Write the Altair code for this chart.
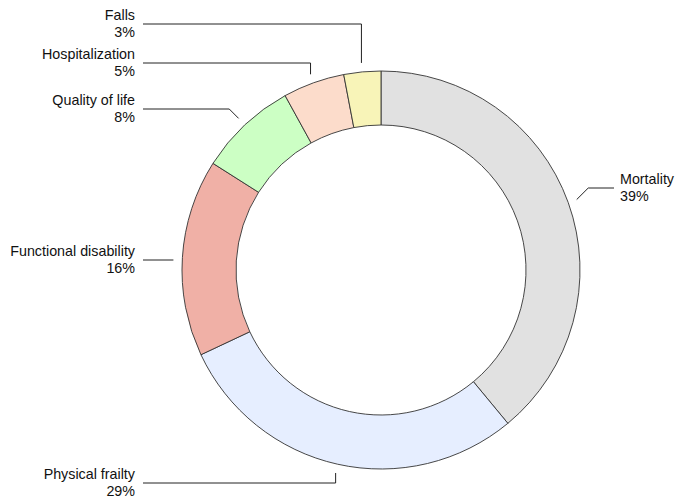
import altair as alt
import pandas as pd
import numpy as np

# ---- data ----
categories = ["Mortality", "Physical frailty", "Functional disability",
              "Quality of life", "Hospitalization", "Falls"]
values = [39, 29, 16, 8, 5, 3]
colors = ["#e1e1e1", "#e6eeff", "#f0b0a6", "#ccffc4", "#fcdccb", "#f8f4b8"]

# ---- layout (pixels, chart coordinates) ----
W, H = 669, 490
CX, CY = 373, 262
R_OUT, R_IN, R_LEAD = 199, 145, 208
label_side = ["right", "left", "left", "left", "left", "left"]
label_y = [180, 475, 252, 101, 55, 16]
label_x = [612, 127, 127, 127, 127, 127]
line_start_x = [606, 135, 135, 135, 135, 135]
elbow = ["diag", "vert", "none", "diag", "vert", "vert"]

df = pd.DataFrame({"category": categories, "value": values,
                   "order": list(range(len(categories)))})
df["pct"] = [f"{v}%" for v in values]

# leader-line end points computed from slice mid angles
tot = sum(values)
cum = np.cumsum([0] + values)
rows = []
for i, c in enumerate(categories):
    mid = (cum[i] + values[i] / 2) / tot * 2 * np.pi
    px = CX + R_LEAD * np.sin(mid)
    py = CY - R_LEAD * np.cos(mid)
    ly = label_y[i]
    sx = line_start_x[i]
    if elbow[i] == "vert":
        ex = px
    elif elbow[i] == "diag":
        d = abs(py - ly)
        ex = px - d if label_side[i] == "left" else px + d
    else:
        ex = px
        py = ly
    for k, (x, y) in enumerate([(sx, ly), (ex, ly), (px, py)]):
        rows.append({"category": c, "k": k, "x": x, "y": y})
lines = pd.DataFrame(rows)

labels = pd.DataFrame({"category": categories, "pct": df["pct"],
                       "x": label_x, "y": label_y, "side": label_side})

arc = alt.Chart(df).mark_arc(
    outerRadius=R_OUT, innerRadius=R_IN, stroke="#333333", strokeWidth=0.9
).encode(
    theta=alt.Theta("value:Q", stack=True),
    order=alt.Order("order:Q"),
    color=alt.Color("category:N", scale=alt.Scale(domain=categories, range=colors), legend=None),
    x=alt.value(CX), y=alt.value(CY),
)

lead = alt.Chart(lines).mark_line(color="#222222", strokeWidth=1).encode(
    x=alt.X("x:Q", scale=None, axis=None),
    y=alt.Y("y:Q", scale=None, axis=None),
    detail="category:N",
    order="k:Q",
)

font = "Liberation Sans"
fs = 14.3

def text_layer(side, field, dy):
    return alt.Chart(labels).transform_filter(
        alt.datum.side == side
    ).mark_text(
        align="right" if side == "left" else "left", baseline="middle",
        font=font, fontSize=fs, color="#111111", dy=dy
    ).encode(
        x=alt.X("x:Q", scale=None, axis=None),
        y=alt.Y("y:Q", scale=None, axis=None),
        text=f"{field}:N",
    )

texts = [text_layer(s, f, d) for s in ["left", "right"]
         for f, d in [("category", -8.5), ("pct", 8.5)]]

chart = alt.layer(arc, lead, *texts).properties(
    width=W, height=H, autosize=alt.AutoSizeParams(type="none"), padding=0
).configure_view(stroke=None)

chart.save("out.html", embed_options={"renderer": "svg", "actions": False})
